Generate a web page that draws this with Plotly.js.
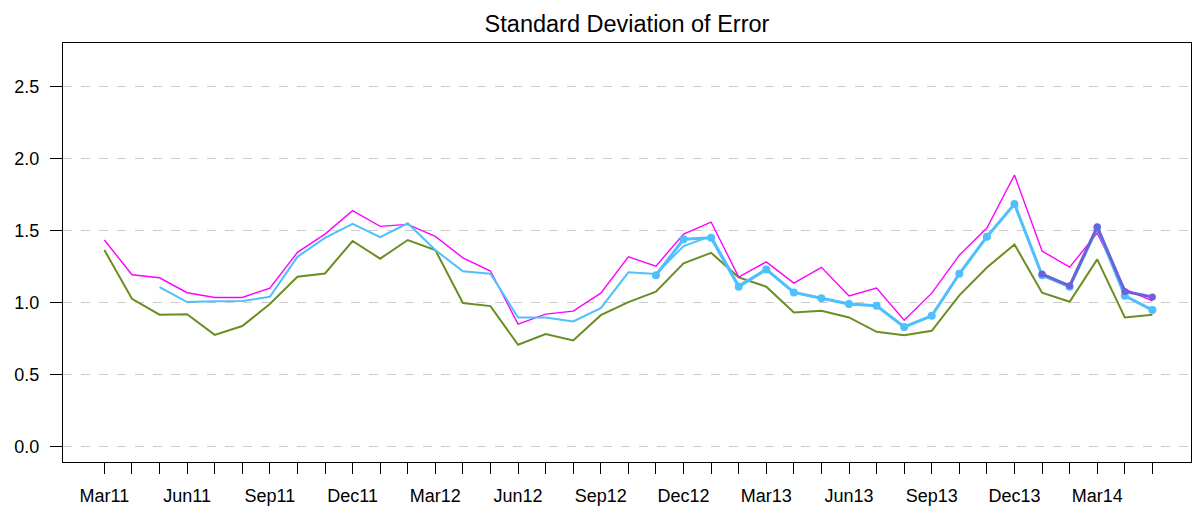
<!DOCTYPE html>
<html>
<head>
<meta charset="utf-8">
<script src="https://cdn.plot.ly/plotly-3.0.1.min.js"></script>
<style>html,body{margin:0;padding:0;background:#fff;}#chart{width:1195px;height:511px;}</style>
</head>
<body>
<div id="chart"></div>
<script>
const months = ["Mar11","Apr11","May11","Jun11","Jul11","Aug11","Sep11","Oct11","Nov11","Dec11","Jan12","Feb12",
  "Mar12","Apr12","May12","Jun12","Jul12","Aug12","Sep12","Oct12","Nov12","Dec12","Jan13","Feb13",
  "Mar13","Apr13","May13","Jun13","Jul13","Aug13","Sep13","Oct13","Nov13","Dec13","Jan14","Feb14",
  "Mar14","Apr14","May14"];
const tickLabels = ["Mar11","","","Jun11","","","Sep11","","","Dec11","","",
  "Mar12","","","Jun12","","","Sep12","","","Dec12","","",
  "Mar13","","","Jun13","","","Sep13","","","Dec13","","",
  "Mar14","",""];

const magenta = [1.435,1.193,1.172,1.068,1.035,1.035,1.10,1.349,1.476,1.639,1.53,1.544,
  1.46,1.311,1.219,0.85,0.919,0.94,1.065,1.318,1.253,1.476,1.56,1.177,
  1.283,1.135,1.245,1.045,1.10,0.877,1.065,1.33,1.518,1.887,1.358,1.246,
  1.483,1.093,1.012];
const green = [1.365,1.026,0.915,0.919,0.775,0.836,0.989,1.179,1.202,1.428,1.305,1.435,
  1.365,0.996,0.975,0.706,0.78,0.736,0.912,1.003,1.075,1.272,1.346,1.175,
  1.11,0.931,0.942,0.896,0.796,0.773,0.803,1.05,1.244,1.404,1.068,1.005,
  1.30,0.896,0.914];
const blueThin = [null,null,1.107,1.003,1.008,1.01,1.04,1.318,1.45,1.547,1.455,1.551,
  1.365,1.217,1.20,0.896,0.896,0.868,0.961,1.21,1.198,1.393,1.462,1.12,
  1.23,1.07,1.03,0.99,0.977,0.83,0.907,1.20,1.458,1.685,1.19,1.11,
  1.52,1.047,0.947];
const blueThick = [null,null,null,null,null,null,null,null,null,null,null,null,
  null,null,null,null,null,null,null,null,1.19,1.44,1.45,1.11,
  1.23,1.07,1.03,0.99,0.977,0.83,0.907,1.20,1.458,1.685,1.19,1.11,
  1.52,1.047,0.947];
const purple = [null,null,null,null,null,null,null,null,null,null,null,null,
  null,null,null,null,null,null,null,null,null,null,null,null,
  null,null,null,null,null,null,null,null,null,null,1.198,1.116,
  1.527,1.077,1.038];
const yTicks = [0,0.5,1.0,1.5,2.0,2.5];
const yTickText = ["0.0","0.5","1.0","1.5","2.0","2.5"];

const traces = [
  {x: months, y: green, type: 'scatter', mode: 'lines', line: {color: '#6b8e23', width: 2}},
  {x: months, y: magenta, type: 'scatter', mode: 'lines', line: {color: '#ff00ff', width: 1.4}},
  {x: months, y: blueThin, type: 'scatter', mode: 'lines', line: {color: '#4fc0fb', width: 2}, connectgaps: false},
  {x: months, y: blueThick, type: 'scatter', mode: 'lines+markers', line: {color: '#4fc0fb', width: 3}, marker: {color: '#4fc0fb', size: 8}},
  {x: months, y: purple, type: 'scatter', mode: 'lines+markers', line: {color: '#6a62d8', width: 3}, marker: {color: '#6a62d8', size: 7}}
];

const layout = {
  width: 1195, height: 511,
  margin: {l: 63, r: 4, t: 43, b: 49},
  paper_bgcolor: '#ffffff', plot_bgcolor: '#ffffff',
  showlegend: false,
  font: {family: 'Liberation Sans, Arial, sans-serif', size: 18, color: '#000'},
  title: {text: 'Standard Deviation of Error', font: {size: 23.5, color: '#000'}, x: 0.5, xref: 'paper', xanchor: 'center', y: 0.953, yanchor: 'middle', yref: 'container'},
  xaxis: {
    type: 'category', categoryorder: 'array', categoryarray: months,
    range: [-1.5, 39.4],
    tickmode: 'array', tickvals: months, ticktext: tickLabels,
    ticks: 'outside', ticklen: 11, tickcolor: '#000', tickwidth: 1,
    showline: true, linecolor: '#000', linewidth: 1, mirror: true,
    showgrid: false, zeroline: false, tickangle: 0,
    ticklabelstandoff: 6,
    tickfont: {size: 18, color: '#000'}
  },
  yaxis: {
    range: [-0.11, 2.806],
    tickmode: 'array', tickvals: yTicks, ticktext: yTickText,
    ticks: 'outside', ticklen: 12, tickcolor: '#000', tickwidth: 1,
    showline: true, linecolor: '#000', linewidth: 1, mirror: true,
    showgrid: true, gridcolor: '#cccccc', griddash: 'dash', gridwidth: 1,
    zeroline: false,
    ticklabelstandoff: 7,
    tickfont: {size: 18, color: '#000'}
  }
};

Plotly.newPlot('chart', traces, layout, {displayModeBar: false, staticPlot: true});
</script>
</body>
</html>
